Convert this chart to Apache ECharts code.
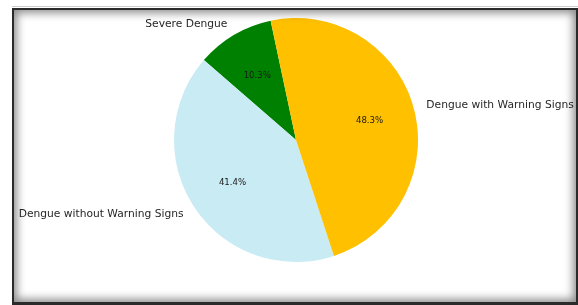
<!DOCTYPE html>
<html>
<head>
<meta charset="utf-8">
<script src="https://cdn.jsdelivr.net/npm/echarts@6/dist/echarts.min.js"></script>
<style>
  html, body { margin: 0; padding: 0; background: #fff; }
  #chart { position: absolute; left: 0; top: 0; width: 578px; height: 305px; }
  .frame {
    position: absolute; left: 12px; top: 8px; width: 562px; height: 292px;
    border: 2px solid #2a2a2a; border-right-width: 4px; border-bottom-width: 3px;
    box-shadow: inset 0 0 9px 3px rgba(0,0,0,0.45);
    pointer-events: none;
  }
  .topline { position: absolute; left: 12px; top: 6px; width: 566px; height: 1px; background: #ccc; }
</style>
</head>
<body>
<div id="chart"></div>
<div class="topline"></div>
<div class="frame"></div>
<script>
// slice order as drawn counterclockwise from the top
const categories = ["Severe Dengue", "Dengue without Warning Signs", "Dengue with Warning Signs"];
const percents = [10.3, 41.4, 48.3];
const colors = ["#008000", "#c9ebf3", "#ffc000"];

const myChart = echarts.init(document.getElementById("chart"));
const R = 122;

const pieData = categories.map((name, i) => ({
  name: name,
  value: percents[i],
  itemStyle: { color: colors[i] }
}));

const option = {
  animation: false,
  series: [
    {
      type: "pie",
      center: [296, 140],
      radius: [0, R],
      startAngle: 102,
      clockwise: false,
      silent: true,
      label: {
        show: true,
        position: "outside",
        formatter: "{b}",
        fontFamily: "DejaVu Sans",
        fontSize: 10.7,
        color: "#262626",
        overflow: "none",
        distanceToLabelLine: 0
      },
      labelLine: { show: false, length: 13, length2: 0 },
      data: pieData
    },
    {
      type: "pie",
      center: [296, 141],
      radius: [0, R * 1.2],
      startAngle: 102,
      clockwise: false,
      silent: true,
      z: 3,
      itemStyle: { color: "transparent" },
      label: {
        show: true,
        position: "inside",
        formatter: p => p.value.toFixed(1) + "%",
        fontFamily: "DejaVu Sans",
        fontSize: 8.6,
        color: "#1a1a1a"
      },
      labelLine: { show: false },
      data: percents.map((v, i) => ({ name: categories[i], value: v }))
    }
  ]
};

myChart.setOption(option);
</script>
</body>
</html>
